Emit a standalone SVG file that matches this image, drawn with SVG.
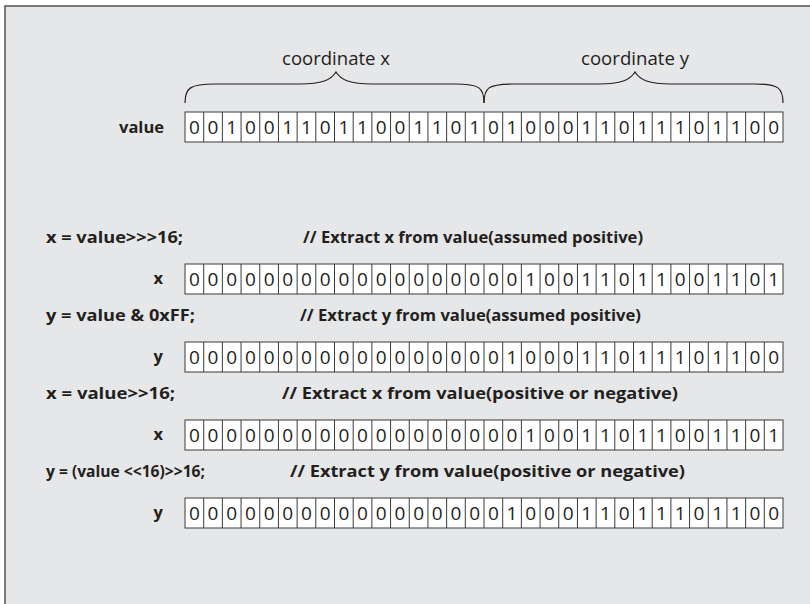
<svg xmlns="http://www.w3.org/2000/svg" xmlns:xlink="http://www.w3.org/1999/xlink" width="810" height="604" viewBox="0 0 810 604">
  <style>
    .frame { fill: #e6e7e8; stroke: #5a5a5a; stroke-width: 1.6; }
    .cell { fill: #ffffff; stroke: #3a3a3a; stroke-width: 1; }
    .grid { fill: none; stroke: #3a3a3a; stroke-width: 1; }
    .bits { font-family: "Open Sans", "Liberation Sans", sans-serif; font-size: 19px; fill: #231f20; text-anchor: middle; }
    .lbl { font-family: "Open Sans", "Liberation Sans", sans-serif; font-size: 16.5px; font-weight: bold; fill: #231f20; text-anchor: end; }
    .code { font-family: "Open Sans", "Liberation Sans", sans-serif; font-size: 16.5px; font-weight: bold; fill: #231f20; }
    .cap { font-family: "Open Sans", "Liberation Sans", sans-serif; font-size: 18px; fill: #231f20; text-anchor: middle; }
    .brace { fill: none; stroke: #231f20; stroke-width: 1.2; }
  </style>
  <defs>
    <!-- one 32-bit register: white strip split into 32 cells -->
    <g id="reg">
      <rect class="cell" x="185" y="0" width="598" height="30"/>
      <path class="grid" d="M203.69,0v30M222.38,0v30M241.06,0v30M259.75,0v30M278.44,0v30M297.13,0v30M315.81,0v30M334.5,0v30M353.19,0v30M371.88,0v30M390.56,0v30M409.25,0v30M427.94,0v30M446.63,0v30M465.31,0v30M484,0v30M502.69,0v30M521.38,0v30M540.06,0v30M558.75,0v30M577.44,0v30M596.13,0v30M614.81,0v30M633.5,0v30M652.19,0v30M670.88,0v30M689.56,0v30M708.25,0v30M726.94,0v30M745.63,0v30M764.31,0v30"/>
    </g>
  </defs>

  <rect class="frame" x="5" y="6" width="810" height="604"/>

  <!-- braces over the two 16-bit halves -->
  <g id="connectors">
    <path class="brace" d="M185,103 C185,88 190,84 215,84 L300,84 C322,84 331,80 336,72 C341,80 350,84 372,84 L455,84 C480,84 484,88 484,103"/>
    <path class="brace" d="M484,103 C484,88 488,84 513,84 L599,84 C621,84 630,80 635,72 C640,80 649,84 671,84 L754,84 C779,84 783,88 783,103"/>
  </g>

  <g id="caption-x"><text class="cap" x="336" y="65" textLength="108" lengthAdjust="spacingAndGlyphs">coordinate x</text></g>
  <g id="caption-y"><text class="cap" x="635" y="65" textLength="108" lengthAdjust="spacingAndGlyphs">coordinate y</text></g>

  <g id="row-value">
    <text class="lbl" x="164" y="133">value</text>
    <use xlink:href="#reg" y="112"/>
    <text class="bits" y="134" x="194.34 213.03 231.72 250.41 269.09 287.78 306.47 325.16 343.84 362.53 381.22 399.91 418.59 437.28 455.97 474.66 493.34 512.03 530.72 549.41 568.09 586.78 605.47 624.16 642.84 661.53 680.22 698.91 717.59 736.28 754.97 773.66">00100110110011010100011011101100</text>
  </g>

  <g id="code-1"><text class="code" x="46" y="243" textLength="137" lengthAdjust="spacingAndGlyphs">x = value&gt;&gt;&gt;16;</text><text class="code" x="303" y="243" textLength="340" lengthAdjust="spacingAndGlyphs">// Extract x from value(assumed positive)</text></g>
  <g id="row-x1">
    <text class="lbl" x="163" y="284">x</text>
    <use xlink:href="#reg" y="264"/>
    <text class="bits" y="286" x="194.34 213.03 231.72 250.41 269.09 287.78 306.47 325.16 343.84 362.53 381.22 399.91 418.59 437.28 455.97 474.66 493.34 512.03 530.72 549.41 568.09 586.78 605.47 624.16 642.84 661.53 680.22 698.91 717.59 736.28 754.97 773.66">00000000000000000010011011001101</text>
  </g>

  <g id="code-2"><text class="code" x="46" y="321" textLength="149" lengthAdjust="spacingAndGlyphs">y = value &amp; 0xFF;</text><text class="code" x="300" y="321" textLength="341" lengthAdjust="spacingAndGlyphs">// Extract y from value(assumed positive)</text></g>
  <g id="row-y1">
    <text class="lbl" x="163" y="362">y</text>
    <use xlink:href="#reg" y="342"/>
    <text class="bits" y="364" x="194.34 213.03 231.72 250.41 269.09 287.78 306.47 325.16 343.84 362.53 381.22 399.91 418.59 437.28 455.97 474.66 493.34 512.03 530.72 549.41 568.09 586.78 605.47 624.16 642.84 661.53 680.22 698.91 717.59 736.28 754.97 773.66">00000000000000000100011011101100</text>
  </g>

  <g id="code-3"><text class="code" x="46" y="399" textLength="129" lengthAdjust="spacingAndGlyphs">x = value&gt;&gt;16;</text><text class="code" x="282" y="399" textLength="396" lengthAdjust="spacingAndGlyphs">// Extract x from value(positive or negative)</text></g>
  <g id="row-x2">
    <text class="lbl" x="163" y="440">x</text>
    <use xlink:href="#reg" y="420"/>
    <text class="bits" y="442" x="194.34 213.03 231.72 250.41 269.09 287.78 306.47 325.16 343.84 362.53 381.22 399.91 418.59 437.28 455.97 474.66 493.34 512.03 530.72 549.41 568.09 586.78 605.47 624.16 642.84 661.53 680.22 698.91 717.59 736.28 754.97 773.66">00000000000000000010011011001101</text>
  </g>

  <g id="code-4"><text class="code" x="46" y="477" textLength="159" lengthAdjust="spacingAndGlyphs">y = (value &lt;&lt;16)&gt;&gt;16;</text><text class="code" x="290" y="477" textLength="395" lengthAdjust="spacingAndGlyphs">// Extract y from value(positive or negative)</text></g>
  <g id="row-y2">
    <text class="lbl" x="163" y="518">y</text>
    <use xlink:href="#reg" y="498"/>
    <text class="bits" y="520" x="194.34 213.03 231.72 250.41 269.09 287.78 306.47 325.16 343.84 362.53 381.22 399.91 418.59 437.28 455.97 474.66 493.34 512.03 530.72 549.41 568.09 586.78 605.47 624.16 642.84 661.53 680.22 698.91 717.59 736.28 754.97 773.66">00000000000000000100011011101100</text>
  </g>
</svg>
